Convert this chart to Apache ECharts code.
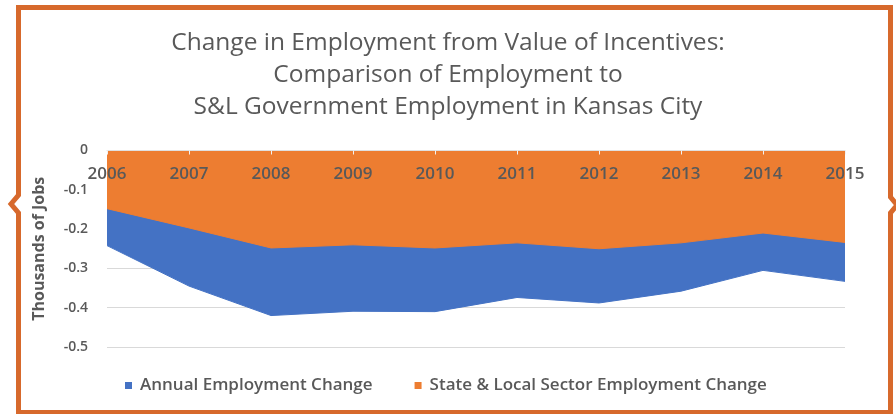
<!DOCTYPE html>
<html>
<head>
<meta charset="utf-8">
<script src="https://cdn.jsdelivr.net/npm/echarts@6/dist/echarts.min.js"></script>
<style>
  html, body { margin: 0; padding: 0; background: #fff; }
  #chart { width: 896px; height: 414px; }
</style>
</head>
<body>
<div id="chart"></div>
<script>
// Years on the category axis
const years = ['2006', '2007', '2008', '2009', '2010', '2011', '2012', '2013', '2014', '2015'];
// Thousands of jobs
const annualChange = [-0.242, -0.345, -0.42, -0.409, -0.41, -0.374, -0.388, -0.358, -0.305, -0.333];
const stateLocalChange = [-0.148, -0.197, -0.248, -0.24, -0.248, -0.235, -0.25, -0.235, -0.21, -0.234];
const titleLines = [
  'Change in Employment from Value of Incentives:',
  'Comparison of Employment to',
  'S&L Government Employment in Kansas City'
];

const FONT = '"Open Sans", Lato, sans-serif';
const GREY = '#595959';
const ORANGE = '#ed7d31';
const BLUE = '#4472c4';
const FRAME = '#d7692c';

const chart = echarts.init(document.getElementById('chart'), null, { renderer: 'canvas' });

chart.setOption({
  animation: false,
  backgroundColor: '#ffffff',
  title: {
    text: titleLines.join('\n'),
    left: 'center',
    top: 22,
    textStyle: {
      fontFamily: FONT,
      fontSize: 24.5,
      fontWeight: 'normal',
      color: GREY,
      lineHeight: 32
    }
  },
  legend: {
    bottom: 15,
    left: 120,
    icon: 'rect',
    itemWidth: 7,
    itemHeight: 7,
    itemGap: 42,
    textStyle: { fontFamily: FONT, fontSize: 17, fontWeight: 600, color: GREY, padding: [0, 0, 0, 3] },
    data: ['Annual Employment Change', 'State & Local Sector Employment Change']
  },
  grid: { left: 107, right: 51, top: 150.5, bottom: 67 },
  xAxis: {
    type: 'category',
    position: 'top',
    data: years,
    boundaryGap: false,
    z: 10,
    axisLine: { show: true, lineStyle: { color: '#e0e0e0', width: 1 } },
    axisTick: { show: true, inside: true, length: 4, lineStyle: { color: '#f2f2f2' } },
    axisLabel: {
      inside: true,
      margin: 15,
      fontFamily: FONT,
      fontSize: 17,
      fontWeight: 600,
      color: GREY
    }
  },
  yAxis: {
    type: 'value',
    min: -0.5,
    max: 0,
    interval: 0.1,
    name: 'Thousands of Jobs',
    nameLocation: 'middle',
    nameGap: 60,
    nameTextStyle: { fontFamily: FONT, fontSize: 16, fontWeight: 'bold', color: GREY },
    axisLine: { show: false },
    axisTick: { show: false },
    axisLabel: { margin: 19, fontFamily: FONT, fontSize: 14, fontWeight: 600, color: GREY },
    splitLine: { show: true, lineStyle: { color: '#d9d9d9', width: 1 } }
  },
  series: [
    {
      name: 'Annual Employment Change',
      type: 'line',
      data: annualChange,
      showSymbol: false,
      color: BLUE,
      lineStyle: { color: BLUE, width: 1 },
      areaStyle: { color: BLUE, opacity: 1, origin: 0 }
    },
    {
      name: 'State & Local Sector Employment Change',
      type: 'line',
      data: stateLocalChange,
      showSymbol: false,
      color: ORANGE,
      lineStyle: { color: ORANGE, width: 1 },
      areaStyle: { color: ORANGE, opacity: 1, origin: 0 }
    }
  ],
  graphic: [
    {
      type: 'polygon',
      silent: true,
      z: 100,
      shape: {
        points: [
          [18.5, 7.5], [890.5, 7.5], [890.5, 197], [897, 205], [890.5, 213],
          [890.5, 412.5], [18.5, 412.5], [18.5, 213], [11, 204], [18.5, 195]
        ]
      },
      style: { fill: null, stroke: FRAME, lineWidth: 5 }
    }
  ]
});
</script>
</body>
</html>
